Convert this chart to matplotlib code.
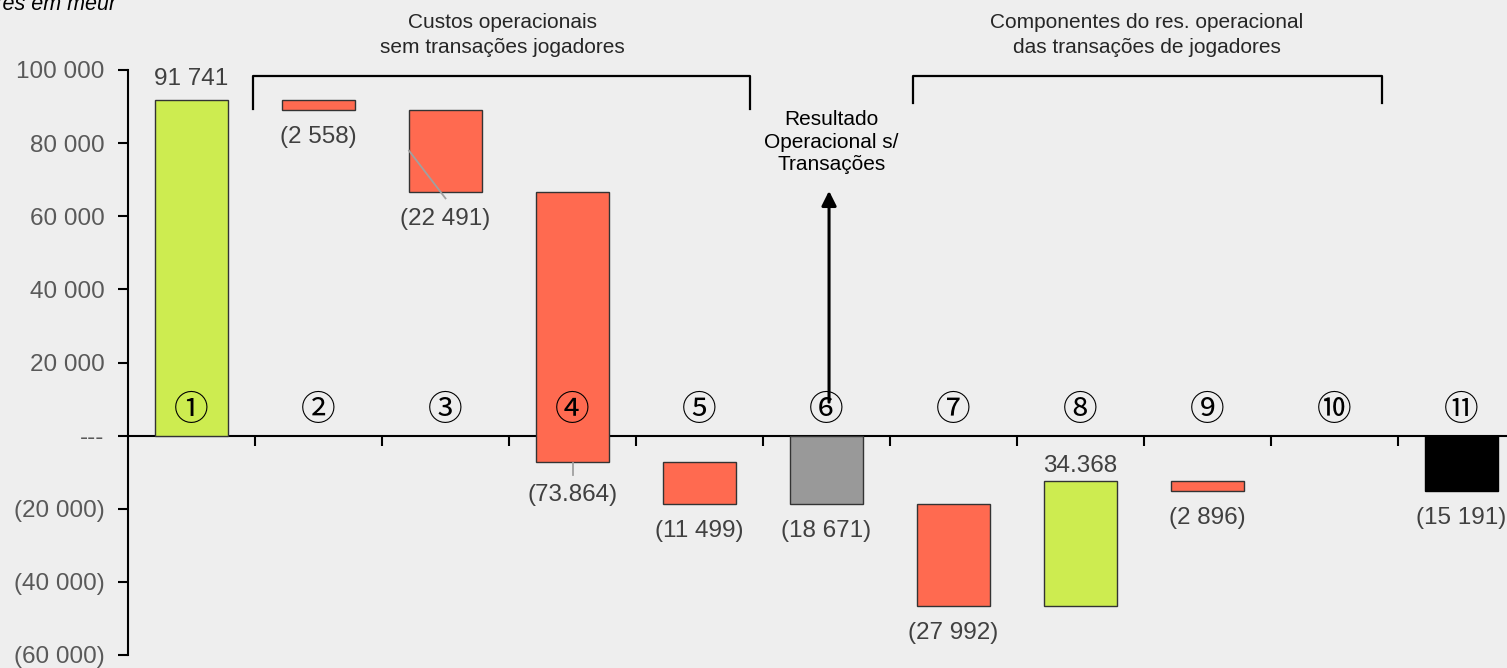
import matplotlib.pyplot as plt
from matplotlib.ticker import FuncFormatter

plt.rcParams['font.family'] = ['Liberation Sans', 'DejaVu Sans']

# waterfall data (valores em meur)
steps = ['①', '②', '③', '④', '⑤', '⑥', '⑦', '⑧', '⑨', '⑩', '⑪']
values = [91741, -2558, -22491, -73864, -11499, 0, -27992, 34368, -2896, 0, 0]
kinds = ['start', 'delta', 'delta', 'delta', 'delta', 'subtotal',
         'delta', 'delta', 'delta', 'empty', 'total']
value_labels = ['91 741', '(2 558)', '(22 491)', '(73.864)', '(11 499)', '(18 671)',
                '(27 992)', '34.368', '(2 896)', '', '(15 191)']

green = '#cdec50'
red = '#ff6a50'
grey = '#999999'
bg = '#eeeeee'

fig = plt.figure(figsize=(15.07, 6.68), dpi=100, facecolor=bg)
ax = fig.add_axes([128 / 1507, 13 / 668, 1397 / 1507, 585 / 668])
ax.set_facecolor(bg)

# build the waterfall
running = 0
bottoms, heights, colors = [], [], []
for v, k in zip(values, kinds):
    if k == 'start':
        bottoms.append(0); heights.append(v); colors.append(green)
        running = v
    elif k == 'delta':
        bottoms.append(running); heights.append(v)
        colors.append(green if v > 0 else red)
        running += v
    elif k == 'subtotal':
        bottoms.append(0); heights.append(running); colors.append(grey)
    elif k == 'total':
        bottoms.append(0); heights.append(running); colors.append('black')
    else:
        bottoms.append(0); heights.append(0); colors.append(bg)

x = list(range(len(steps)))
for i in x:
    if kinds[i] == 'empty':
        continue
    ax.bar(i, heights[i], bottom=bottoms[i], width=0.575, color=colors[i],
           edgecolor='black' if kinds[i] == 'total' else '#333333',
           linewidth=1.0, zorder=3)

# value labels
for i in x:
    if not value_labels[i]:
        continue
    top = bottoms[i] + heights[i]
    lo, hi = min(bottoms[i], top), max(bottoms[i], top)
    if heights[i] > 0:
        off = 21 if i == 0 else 15
        ax.annotate(value_labels[i], (i, hi), xytext=(0, off), textcoords='offset pixels',
                    ha='center', va='center', fontsize=17.5, color='#404040')
    else:
        off = -33 if i == 3 else -27
        ax.annotate(value_labels[i], (i, lo), xytext=(0, off), textcoords='offset pixels',
                    ha='center', va='center', fontsize=17.5, color='#404040')

# leader lines (as in the original)
b3_top = bottoms[2]
b3_bot = bottoms[2] + heights[2]
ax.plot([2 - 0.2875, 2], [(b3_top + b3_bot) / 2, b3_bot - 1800], color='#a0a0a0', lw=1.3, zorder=4)
b4_bot = bottoms[3] + heights[3]
ax.plot([3, 3], [b4_bot - 300, b4_bot - 3600], color='#a0a0a0', lw=1.3, zorder=4)

# circled step numbers
for i, s in enumerate(steps):
    ax.annotate(s, (i, 0), xytext=(0, 25), textcoords='offset pixels', ha='center',
                va='center', fontsize=25, color='black',
                family=['Noto Sans CJK JP', 'DejaVu Sans'], zorder=5)

# axes styling
ax.set_xlim(-0.5, 10.5)
ax.set_ylim(-60000, 100000)
ax.set_yticks(range(-60000, 100001, 20000))


def fmt(v, pos):
    v = int(round(v))
    if v == 0:
        return '---'
    s = f'{abs(v):,}'.replace(',', ' ')
    return f'({s})' if v < 0 else s


ax.yaxis.set_major_formatter(FuncFormatter(fmt))
ax.tick_params(axis='y', direction='out', length=7, width=1.5, colors='black',
               labelcolor='#595959', labelsize=17.5, pad=10)
ax.spines['top'].set_visible(False)
ax.spines['right'].set_visible(False)
ax.spines['left'].set_linewidth(1.5)
ax.spines['bottom'].set_position(('data', 0))
ax.spines['bottom'].set_linewidth(1.5)
ax.set_xticks([i + 0.5 for i in range(10)])
ax.set_xticklabels([])
ax.tick_params(axis='x', direction='out', length=7, width=1.5, colors='black')

# arrow to the operating result
ax.annotate('', xy=(5.02, 67700), xytext=(5.02, 8400),
            arrowprops=dict(arrowstyle='-|>', color='black', lw=2.2, mutation_scale=22),
            zorder=6)
ax.text(5.04, 80300, 'Resultado\nOperacional s/\nTransações', ha='center', va='center',
        fontsize=15, color='black', linespacing=1.25)

# brackets
for x0, x1, yb in [(0.488, 4.398, 89300), (5.679, 9.374, 91000)]:
    ax.plot([x0, x0, x1, x1], [yb, 98400, 98400, yb], color='black', lw=1.6,
            clip_on=False, zorder=6)
ax.text(2.45, 109500, 'Custos operacionais\nsem transações jogadores', ha='center',
        va='center', fontsize=15, color='#262626', linespacing=1.4)
ax.text(7.52, 109500, 'Componentes do res. operacional\ndas transações de jogadores',
        ha='center', va='center', fontsize=15, color='#262626', linespacing=1.4)

fig.text(116 / 1507, 1 - 10 / 668, 'Valores em meur', ha='right', va='baseline',
         fontsize=15.5, style='italic', color='black')

fig.savefig('out.png', dpi=100, facecolor=bg)
